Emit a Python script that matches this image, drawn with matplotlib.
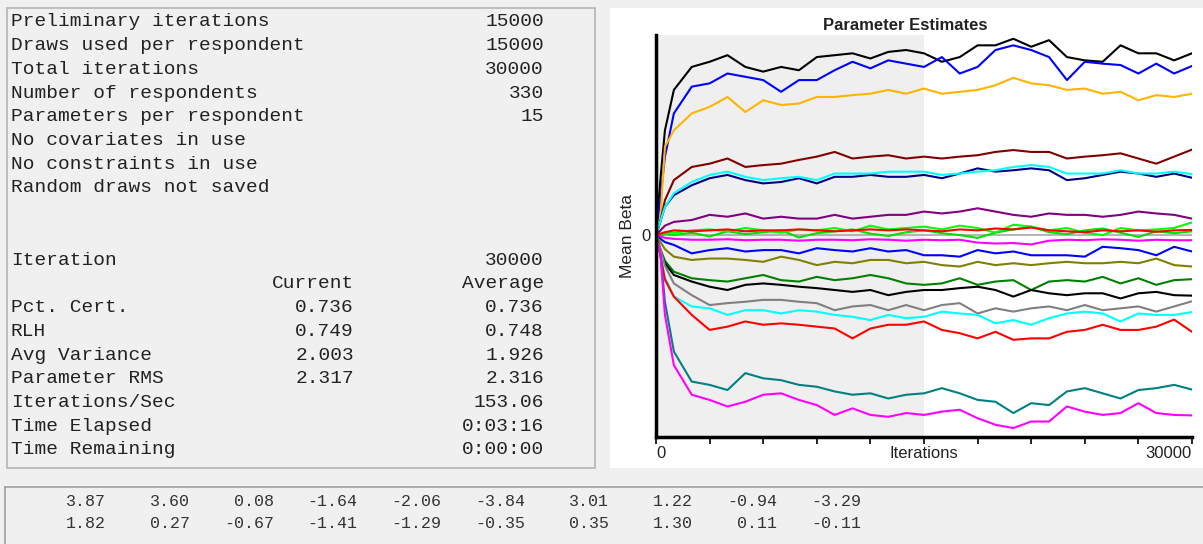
import matplotlib
matplotlib.use("Agg")
import matplotlib.pyplot as plt
from matplotlib.patches import Rectangle
from matplotlib.lines import Line2D
import matplotlib.transforms as mtransforms

W, H = 1203, 544

# --- data ---------------------------------------------------------------
summary_labels = ["Preliminary iterations", "Draws used per respondent", "Total iterations",
                  "Number of respondents", "Parameters per respondent", "No covariates in use",
                  "No constraints in use", "Random draws not saved"]
summary_values = ["15000", "15000", "30000", "330", "15", "", "", ""]

stat_labels = ["Iteration", "", "Pct. Cert.", "RLH", "Avg Variance", "Parameter RMS",
               "Iterations/Sec", "Time Elapsed", "Time Remaining"]
stat_current = ["", "Current", "0.736", "0.749", "2.003", "2.317", "", "", ""]
stat_average = ["30000", "Average", "0.736", "0.748", "1.926", "2.316", "153.06", "0:03:16", "0:00:00"]

est_row1 = [3.87, 3.60, 0.08, -1.64, -2.06, -3.84, 3.01, 1.22, -0.94, -3.29]
est_row2 = [1.82, 0.27, -0.67, -1.41, -1.29, -0.35, 0.35, 1.30, 0.11, -0.11]

iters = [0, 250, 500, 1000, 2000, 3000, 4000, 5000, 6000, 7000, 8000, 9000, 10000,
         11000, 12000, 13000, 14000, 15000, 16000, 17000, 18000, 19000, 20000,
         21000, 22000, 23000, 24000, 25000, 26000, 27000, 28000, 29000, 30000]

black1 = [0, 1.2, 2.23, 3.09, 3.58, 3.69, 3.83, 3.58, 3.48, 3.58, 3.51, 3.79, 3.83, 3.87, 3.76, 3.90,
          3.94, 3.87, 3.69, 3.79, 4.04, 4.04, 4.18, 4.01, 4.15, 3.79, 3.72, 3.69, 4.04, 3.87, 3.87, 3.72, 3.87]
blue1 = [0, 0.8, 1.67, 2.59, 3.16, 3.23, 3.44, 3.37, 3.30, 3.05, 3.30, 3.30, 3.51, 3.69, 3.55, 3.72,
         3.65, 3.58, 3.79, 3.44, 3.58, 3.94, 4.04, 3.94, 3.79, 3.30, 3.69, 3.65, 3.62, 3.44, 3.65, 3.44, 3.60]
orange = [0, 0.4, 1.88, 2.23, 2.59, 2.73, 2.94, 2.62, 2.87, 2.77, 2.80, 2.94, 2.94, 2.98, 3.01, 3.09,
          3.01, 3.12, 3.01, 3.05, 3.09, 3.19, 3.35, 3.23, 3.19, 3.09, 3.12, 3.01, 3.05, 2.87, 2.98, 2.94, 3.01]
maroon = [0, 0.3, 0.74, 1.17, 1.45, 1.52, 1.63, 1.45, 1.49, 1.52, 1.60, 1.67, 1.77, 1.63, 1.67, 1.70,
          1.63, 1.67, 1.63, 1.67, 1.70, 1.77, 1.81, 1.77, 1.77, 1.63, 1.67, 1.70, 1.74, 1.63, 1.52, 1.67, 1.82]
cyan1 = [0, 0.3, 0.6, 0.89, 1.13, 1.28, 1.35, 1.24, 1.17, 1.21, 1.24, 1.17, 1.31, 1.31, 1.31, 1.35,
         1.35, 1.35, 1.28, 1.31, 1.35, 1.38, 1.45, 1.49, 1.45, 1.31, 1.31, 1.31, 1.38, 1.31, 1.31, 1.35, 1.30]
navy = [0, 0.3, 0.6, 0.85, 1.06, 1.21, 1.28, 1.17, 1.10, 1.13, 1.21, 1.10, 1.24, 1.24, 1.28, 1.24,
        1.24, 1.28, 1.21, 1.31, 1.42, 1.35, 1.38, 1.42, 1.38, 1.17, 1.21, 1.28, 1.35, 1.31, 1.24, 1.31, 1.22]
purple = [0, 0.1, 0.2, 0.28, 0.32, 0.43, 0.39, 0.46, 0.35, 0.39, 0.35, 0.35, 0.43, 0.35, 0.39, 0.43,
          0.43, 0.50, 0.46, 0.50, 0.57, 0.50, 0.43, 0.39, 0.46, 0.43, 0.43, 0.39, 0.43, 0.50, 0.46, 0.43, 0.35]
lime1 = [0, 0.02, 0.05, 0.05, 0.10, 0.12, 0.08, 0.15, 0.10, 0.05, 0.12, 0.10, 0.15, 0.08, 0.20, 0.12,
         0.15, 0.18, 0.12, 0.20, 0.15, 0.05, 0.22, 0.18, 0.10, 0.15, 0.05, 0.00, 0.15, 0.10, 0.12, 0.15, 0.27]
lime2 = [0, -0.02, 0.03, 0.00, 0.05, -0.03, 0.08, 0.02, 0.06, 0.10, -0.05, 0.04, 0.08, 0.12, 0.03, -0.02,
         0.06, 0.10, 0.04, 0.00, -0.06, 0.05, 0.12, 0.18, 0.06, 0.02, 0.10, 0.14, 0.05, -0.04, 0.08, 0.04, 0.08]
red1 = [0, 0.03, 0.06, 0.10, 0.08, 0.10, 0.12, 0.08, 0.10, 0.10, 0.12, 0.10, 0.08, 0.10, 0.12, 0.10,
        0.12, 0.10, 0.08, 0.12, 0.10, 0.14, 0.12, 0.16, 0.10, 0.08, 0.06, 0.10, 0.08, 0.10, 0.07, 0.10, 0.11]
magenta1 = [0, -0.03, -0.06, -0.08, -0.10, -0.10, -0.09, -0.11, -0.10, -0.10, -0.12, -0.10, -0.10, -0.11,
            -0.09, -0.10, -0.12, -0.10, -0.11, -0.10, -0.16, -0.18, -0.17, -0.20, -0.12, -0.10, -0.11,
            -0.09, -0.10, -0.12, -0.10, -0.11, -0.11]
blue2 = [0, -0.08, -0.15, -0.21, -0.39, -0.32, -0.28, -0.35, -0.32, -0.32, -0.39, -0.28, -0.32, -0.35,
         -0.28, -0.35, -0.32, -0.43, -0.43, -0.46, -0.32, -0.39, -0.35, -0.43, -0.43, -0.43, -0.46, -0.25,
         -0.28, -0.32, -0.43, -0.25, -0.35]
olive = [0, -0.15, -0.30, -0.46, -0.53, -0.50, -0.50, -0.53, -0.57, -0.46, -0.53, -0.64, -0.57, -0.60,
         -0.53, -0.53, -0.60, -0.57, -0.64, -0.67, -0.57, -0.64, -0.60, -0.64, -0.60, -0.57, -0.60, -0.60,
         -0.57, -0.60, -0.50, -0.64, -0.67]
dkgreen = [0, -0.30, -0.55, -0.78, -0.92, -0.96, -0.99, -0.92, -0.85, -0.96, -0.99, -0.89, -0.96, -0.92,
           -0.85, -0.92, -1.03, -1.06, -1.03, -0.92, -1.06, -0.99, -0.96, -1.17, -0.99, -0.96, -0.99,
           -0.89, -1.03, -0.92, -1.06, -0.96, -0.94]
black2 = [0, -0.35, -0.60, -0.85, -0.99, -1.10, -1.17, -1.06, -1.03, -1.06, -1.10, -1.13, -1.17, -1.21,
          -1.17, -1.28, -1.21, -1.17, -1.17, -1.13, -1.10, -1.17, -1.31, -1.17, -1.24, -1.28, -1.24,
          -1.24, -1.35, -1.24, -1.21, -1.28, -1.29]
gray = [0, -0.30, -0.65, -1.03, -1.28, -1.49, -1.45, -1.42, -1.38, -1.38, -1.42, -1.45, -1.60, -1.52,
        -1.49, -1.60, -1.49, -1.60, -1.49, -1.45, -1.67, -1.56, -1.63, -1.56, -1.52, -1.60, -1.49, -1.60,
        -1.56, -1.52, -1.63, -1.52, -1.41]
cyan2 = [0, -0.40, -0.90, -1.31, -1.52, -1.56, -1.70, -1.60, -1.60, -1.67, -1.60, -1.63, -1.70, -1.74,
         -1.81, -1.70, -1.77, -1.74, -1.63, -1.67, -1.70, -1.88, -1.81, -1.91, -1.77, -1.67, -1.63, -1.67,
         -1.84, -1.67, -1.70, -1.70, -1.64]
red2 = [0, -0.45, -0.95, -1.31, -1.70, -2.02, -1.95, -1.84, -1.91, -1.88, -1.91, -1.95, -1.99, -2.20,
        -1.99, -1.91, -1.91, -1.84, -2.02, -2.09, -2.20, -2.06, -2.23, -2.20, -2.20, -2.06, -2.02, -1.91,
        -2.02, -2.02, -1.95, -1.80, -2.06]
teal = [0, -0.40, -1.42, -2.48, -3.12, -3.19, -3.30, -2.94, -3.05, -3.09, -3.19, -3.23, -3.33, -3.40,
        -3.37, -3.48, -3.40, -3.37, -3.26, -3.37, -3.51, -3.55, -3.79, -3.58, -3.62, -3.33, -3.26, -3.37,
        -3.48, -3.30, -3.26, -3.19, -3.29]
magenta2 = [0, -0.40, -1.70, -2.77, -3.40, -3.51, -3.65, -3.55, -3.40, -3.37, -3.51, -3.62, -3.83, -3.69,
            -3.83, -3.87, -3.79, -3.83, -3.76, -3.72, -3.90, -4.04, -4.11, -3.97, -3.97, -3.65, -3.76,
            -3.83, -3.79, -3.58, -3.79, -3.83, -3.84]

series = [(black1, "#000000"), (blue1, "#0000FF"), (orange, "#FFB400"), (maroon, "#800000"),
          (navy, "#000080"), (cyan1, "#00FFFF"), (purple, "#800080"), (lime2, "#00E000"),
          (lime1, "#00FF00"), (red1, "#FF0000"), (magenta1, "#FF00FF"), (blue2, "#0000FF"),
          (olive, "#808000"), (dkgreen, "#008000"), (black2, "#000000"), (gray, "#808080"),
          (cyan2, "#00FFFF"), (red2, "#FF0000"), (teal, "#008080"), (magenta2, "#FF00FF")]


def fx(px):
    return px / W


def fy(py):
    return 1 - py / H


fig = plt.figure(figsize=(W / 100, H / 100), dpi=100, facecolor="#F0F0F0")

# panels (drawn below the axes)
fig.patches.append(Rectangle((fx(7), fy(468)), fx(595) - fx(7), fy(8) - fy(468), transform=fig.transFigure,
                             facecolor="#F0F0F0", edgecolor="#B4B4B4", lw=1.2, zorder=-10))
fig.patches.append(Rectangle((fx(610), fy(468)), fx(1203) - fx(610), fy(8) - fy(468), transform=fig.transFigure,
                             facecolor="white", edgecolor="none", zorder=-10))
fig.lines.append(Line2D([fx(5), fx(1203)], [fy(487), fy(487)], transform=fig.transFigure,
                        color="#A0A0A0", lw=1.2, zorder=-10))
fig.lines.append(Line2D([fx(5), fx(5)], [fy(487), 0], transform=fig.transFigure,
                        color="#A0A0A0", lw=1.2, zorder=-10))

mono = dict(family="Liberation Mono", fontsize=14, color="#222222", va="center")

# summary text
for i, (lab, val) in enumerate(zip(summary_labels, summary_values)):
    y = fy(22 + 23.7 * i)
    fig.text(fx(11), y, lab, ha="left", **mono)
    fig.text(fx(544), y, val, ha="right", **mono)

for i, (lab, cur, avg) in enumerate(zip(stat_labels, stat_current, stat_average)):
    y = fy(260 + 23.75 * i)
    fig.text(fx(11), y, lab, ha="left", **mono)
    fig.text(fx(354), y, cur, ha="right", **mono)
    fig.text(fx(544), y, avg, ha="right", **mono)

# footer estimates
for j, (a, b) in enumerate(zip(est_row1, est_row2)):
    x = fx(106 + 83.9 * j)
    fig.text(x, fy(501), f"{a:.2f}", ha="right", va="center", family="Liberation Mono",
             fontsize=12, color="#333333")
    fig.text(x, fy(524), f"{b:.2f}", ha="right", va="center", family="Liberation Mono",
             fontsize=12, color="#333333")

# chart
ax = fig.add_axes([fx(656), fy(437), fx(1192) - fx(656), fy(35) - fy(437)])
ax.set_facecolor("white")
ax.axvspan(0, 15000, color="#EFEFEF", zorder=0, lw=0)
ax.axhline(0, color="#A8A8A8", lw=1.2, zorder=1)
for vals, col in series:
    ax.plot(iters, vals, color=col, lw=1.5, zorder=2)

ax.set_xlim(0, 30000)
ax.set_ylim(-4.30, 4.26)
for s in ["top", "right"]:
    ax.spines[s].set_visible(False)
ax.spines["left"].set_linewidth(2.5)
ax.spines["bottom"].set_linewidth(2.5)
ax.set_xticks([3000 * k for k in range(11)])
ax.set_xticklabels([])
ax.tick_params(axis="x", length=5, width=1.2, direction="out")
ax.set_yticks([0])
ax.set_yticklabels(["0"], fontsize=12, family="Liberation Sans", color="#222222")
ax.tick_params(axis="y", length=0, pad=4)

tr = mtransforms.blended_transform_factory(ax.transData, fig.transFigure)
ax.text(0, fy(453), "0", transform=tr, ha="left", va="center", fontsize=12,
        family="Liberation Sans", color="#222222")
ax.text(15000, fy(453), "Iterations", transform=tr, ha="center", va="center", fontsize=12,
        family="Liberation Sans", color="#222222")
ax.text(30000, fy(453), "30000", transform=tr, ha="right", va="center", fontsize=12,
        family="Liberation Sans", color="#222222")

fig.text(fx(905), fy(25), "Parameter Estimates", ha="center", va="center", fontsize=12,
         fontweight="bold", family="Liberation Sans", color="#222222")
fig.text(fx(628), fy(236), "Mean Beta", ha="center", va="center", rotation=90, fontsize=12.5,
         family="Liberation Sans", color="#222222")

fig.savefig("out.png", dpi=100, facecolor=fig.get_facecolor())
